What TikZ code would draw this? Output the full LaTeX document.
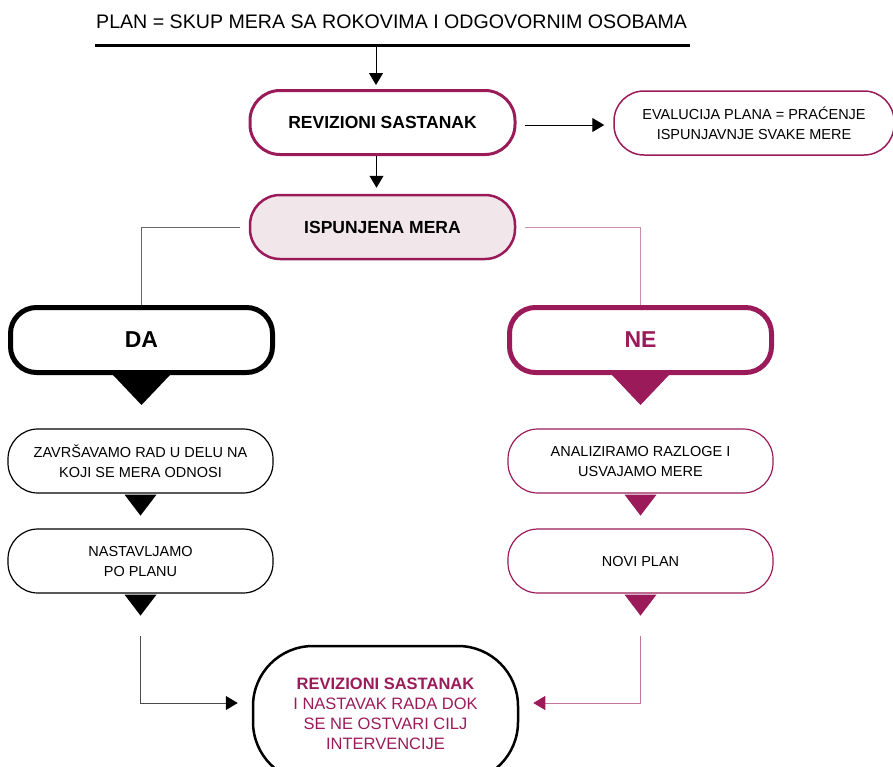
\documentclass[tikz,border=0pt]{standalone}
\usepackage{fontspec}
\setmainfont{Liberation Sans}
\usetikzlibrary{arrows.meta}
\definecolor{mag}{RGB}{155,27,90}
\definecolor{pinkfill}{RGB}{241,230,233}
\tikzstyle{pill}=[rectangle, rounded corners=30pt, minimum width=265pt, minimum height=64pt, align=center, inner sep=0pt]
\tikzstyle{head}=[pill, draw=mag, line width=3pt, font=\bfseries\fontsize{17.5}{20}\selectfont]
\tikzstyle{big}=[pill, rounded corners=26pt, minimum width=262pt, minimum height=65pt, line width=5pt, font=\bfseries\fontsize{23}{26}\selectfont]
\tikzstyle{small}=[pill, line width=1.2pt, font=\fontsize{14.5}{20}\selectfont]
\tikzstyle{line}=[line width=1pt]

\begin{document}
\begin{tikzpicture}[x=1pt,y=-1pt,>={Triangle[width=14pt,length=12pt]}]
    \useasboundingbox (0,0) rectangle (893,766);
    % title and rule
    \node [anchor=base west, inner sep=0pt, font=\fontsize{19.6}{24}\selectfont] (title) at (96,28) {PLAN = SKUP MERA SA ROKOVIMA I ODGOVORNIM OSOBAMA};
    \coordinate (rl) at (95,45);
    \coordinate (rr) at (690,45);
    \coordinate (top) at (376,45);
    \draw [line width=3pt] (rl) -- (rr);
    % boxes
    \node [head] (rev) at (382.5,122.5) {REVIZIONI SASTANAK};
    \node [small, draw=mag, line width=1.5pt, minimum width=280pt] (eval) at (754,123) {EVALUCIJA PLANA = PRAĆENJE\\ISPUNJAVNJE SVAKE MERE};
    \node [head, fill=pinkfill, line width=2.5pt] (isp) at (382.5,227) {ISPUNJENA MERA};
    \node [big, draw=black] (da) at (141.5,340) {DA};
    \node [big, draw=mag, text=mag] (ne) at (640.5,340) {NE};
    \node [small, draw=black] (zav) at (140.5,461) {ZAVRŠAVAMO RAD U DELU NA\\KOJI SE MERA ODNOSI};
    \node [small, draw=black] (nast) at (140.5,561) {NASTAVLJAMO\\PO PLANU};
    \node [small, draw=mag] (anal) at (640.5,461) {ANALIZIRAMO RAZLOGE I\\USVAJAMO MERE};
    \node [small, draw=mag] (novi) at (640.5,561) {NOVI PLAN};
    \node [pill, rounded corners=60pt, draw=black, line width=2.5pt, minimum height=136pt, text=mag, font=\fontsize{16.5}{20}\selectfont] (fin) at (385.5,714) {\textbf{REVIZIONI SASTANAK}\\I NASTAVAK RADA DOK\\SE NE OSTVARI CILJ\\INTERVENCIJE};
    % arrows
    \draw [line, ->, shorten >=4pt] (top) -- (top |- rev.north);
    \draw [line, ->, shorten >=6pt] ([xshift=-6pt]rev.south) -- ([xshift=-6pt]isp.north);
    \draw [line, ->, shorten <=8pt, shorten >=9pt] ([yshift=-2.5pt]rev.east) -- ([yshift=-2pt]eval.west);
    \draw [line, black!60, shorten <=9pt] (isp.west) -| (da.north);
    \draw [line, mag!50, shorten <=9pt] (isp.east) -| (ne.north);
    % pointers
    \fill (da.south) ++(-28.5,0) -- ++(57,0) -- ++(-28.5,30) -- cycle;
    \fill [mag] (ne.south) ++(-28.5,0) -- ++(57,0) -- ++(-28.5,30) -- cycle;
    \foreach \b in {zav,nast} \fill (\b.south) ++(-16,1) -- ++(32,0) -- ++(-16,21) -- cycle;
    \foreach \b in {anal,novi} \fill [mag] (\b.south) ++(-16,1) -- ++(32,0) -- ++(-16,21) -- cycle;
    \draw [line, black!70, -{Triangle[width=14pt,length=12pt,color=black]}, shorten >=14pt] (nast.south) ++(0,42) |- ([yshift=11pt]fin.west);
    \draw [line, mag!60, -{Triangle[width=14pt,length=12pt,color=mag]}, shorten >=14pt] (novi.south) ++(0,42) |- ([yshift=11pt]fin.east);
\end{tikzpicture}
\end{document}
